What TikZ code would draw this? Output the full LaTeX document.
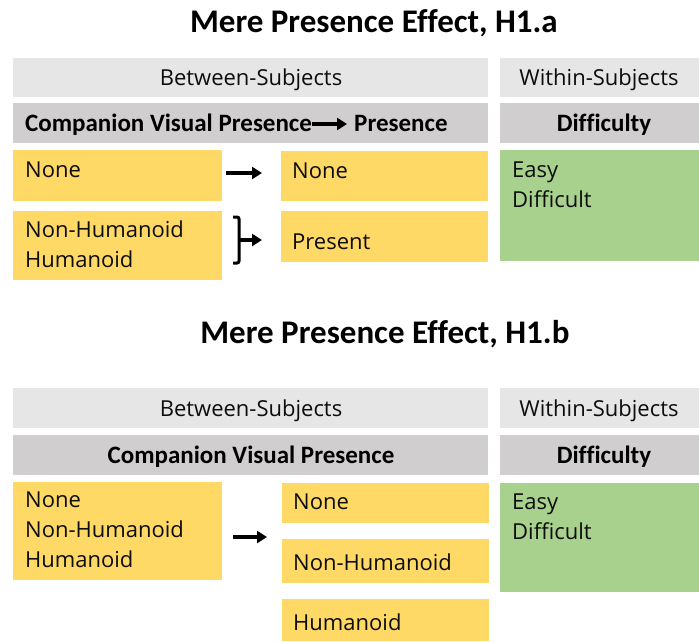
\documentclass[tikz,border=0pt]{standalone}
\usepackage{fontspec}
\setmainfont{Open Sans}
\newfontfamily\hdfont[Ligatures=NoCommon]{Carlito}
\usetikzlibrary{arrows.meta}
\definecolor{lgray}{HTML}{E7E6E6}
\definecolor{mgray}{HTML}{D0CECE}
\definecolor{yel}{HTML}{FFD966}
\definecolor{grn}{HTML}{A9D18E}
\definecolor{ink}{HTML}{0D0D0D}
\tikzset{
  box/.style={anchor=north west, inner sep=0pt, outer sep=0pt, draw=none},
  body/.style={inner sep=0pt, anchor=base west, text=ink, font=\fontsize{22}{26}\selectfont},
  sub/.style={inner sep=0pt, anchor=base, text=ink, font=\fontsize{22}{26}\selectfont},
  hd/.style={inner sep=0pt, anchor=base, text=black, font=\hdfont\bfseries\fontsize{25}{30}\selectfont},
  ttl/.style={inner sep=0pt, anchor=base, text=black, font=\hdfont\bfseries\fontsize{33}{40}\selectfont},
  arr/.style={line width=3.5pt, -{Triangle[length=10pt,width=12pt]}},
  brk/.style={line width=3pt, rounded corners=2pt},
}
\begin{document}
\begin{tikzpicture}[x=1pt,y=-1pt]
\useasboundingbox (0,0) rectangle (699,641);
\fill[white] (0,0) rectangle (699,641);

% ===== H1.a =====
\node[ttl] (t1) at (374,32) {Mere Presence Effect, H1.a};

\node[box, fill=lgray, minimum width=475pt, minimum height=39pt] (bs1) at (13,58) {};
\node[sub] (bs1t) at (251,85) {Between-Subjects};
\node[box, fill=lgray, minimum width=199pt, minimum height=39pt] (ws1) at (500,58) {};
\node[sub] (ws1t) at (599,85) {Within-Subjects};

\node[box, fill=mgray, minimum width=475pt, minimum height=40pt] (cv1) at (13,103) {};
\node[hd, anchor=base west] (cvp) at (25,131) {Companion Visual Presence};
\node[hd, anchor=base west] (pres) at (354,131) {Presence};
\draw[arr] ([shift={(0,-7)}]cvp.base east) -- ([shift={(-7,-7)}]pres.base west);
\node[box, fill=mgray, minimum width=199pt, minimum height=40pt] (df1) at (500,103) {};
\node[hd] (df1t) at (604,131) {Difficulty};

\node[box, fill=yel, minimum width=209pt, minimum height=51pt] (a1) at (13,150) {};
\node[body] at (25,177) {None};
\node[box, fill=yel, minimum width=209pt, minimum height=69pt] (a2) at (13,211) {};
\node[body] at (25,237) {Non-Humanoid};
\node[body] at (25,267) {Humanoid};

\node[box, fill=yel, minimum width=207pt, minimum height=50pt] (b1) at (281,151) {};
\node[body] at (292,178) {None};
\node[box, fill=yel, minimum width=207pt, minimum height=51pt] (b2) at (281,211) {};
\node[body] at (292,249) {Present};

\node[box, fill=grn, minimum width=199pt, minimum height=111pt] (g1) at (500,150) {};
\node[body] at (512,177) {Easy};
\node[body] at (512,207) {Difficult};

\draw[arr, shorten <=4pt, shorten >=19pt] ([yshift=2.5pt]a1.east) -- ([yshift=2.5pt]a1.east -| b1.west);
\draw[brk] (233,217) -- (239,217) -- (239,263) -- (233,263);
\coordinate (bm) at (239,240);
\draw[arr, shorten >=19pt] (bm) -- (bm -| b2.west);

% ===== H1.b =====
\node[ttl] (t2) at (385,343) {Mere Presence Effect, H1.b};

\node[box, fill=lgray, minimum width=475pt, minimum height=40pt] (bs2) at (13,388) {};
\node[sub] (bs2t) at (251,416) {Between-Subjects};
\node[box, fill=lgray, minimum width=199pt, minimum height=40pt] (ws2) at (500,388) {};
\node[sub] (ws2t) at (599,416) {Within-Subjects};

\node[box, fill=mgray, minimum width=475pt, minimum height=40pt] (cv2) at (13,435) {};
\node[hd] (cv2t) at (251,463) {Companion Visual Presence};
\node[box, fill=mgray, minimum width=199pt, minimum height=40pt] (df2) at (500,435) {};
\node[hd] (df2t) at (604,463) {Difficulty};

\node[box, fill=yel, minimum width=209pt, minimum height=98pt] (c1) at (13,482) {};
\node[body] at (25,507) {None};
\node[body] at (25,537) {Non-Humanoid};
\node[body] at (25,567) {Humanoid};

\node[box, fill=yel, minimum width=207pt, minimum height=40pt] (d1) at (282,483) {};
\node[body] at (293,509) {None};
\node[box, fill=yel, minimum width=207pt, minimum height=44pt] (d2) at (282,539) {};
\node[body] at (293,570) {Non-Humanoid};
\node[box, fill=yel, minimum width=207pt, minimum height=42pt] (d3) at (282,599) {};
\node[body] at (293,630) {Humanoid};

\node[box, fill=grn, minimum width=199pt, minimum height=109pt] (g2) at (500,483) {};
\node[body] at (512,509) {Easy};
\node[body] at (512,539) {Difficult};

\draw[arr, shorten <=11pt, shorten >=15pt] ([yshift=-6pt]c1.east) -- ([yshift=-6pt]c1.east -| d2.west);
\end{tikzpicture}
\end{document}
